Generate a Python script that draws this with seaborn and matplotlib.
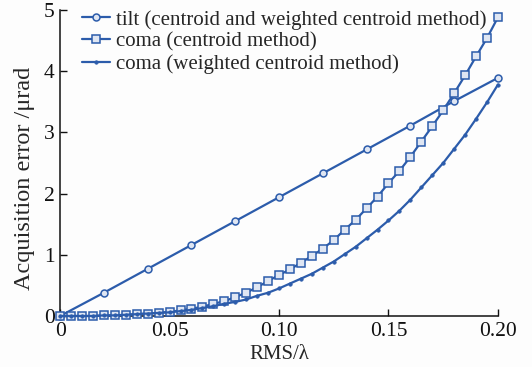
import numpy as np
import pandas as pd
import matplotlib
matplotlib.use("Agg")
import matplotlib.pyplot as plt
import seaborn as sns

# Data
tilt_x = [0.00, 0.02, 0.04, 0.06, 0.08, 0.10, 0.12, 0.14, 0.16, 0.18, 0.20]
tilt_y = [0.00, 0.38, 0.77, 1.16, 1.55, 1.94, 2.33, 2.72, 3.11, 3.51, 3.89]

coma_x = [0.000, 0.005, 0.010, 0.015, 0.020, 0.025, 0.030, 0.035, 0.040, 0.045,
          0.050, 0.055, 0.060, 0.065, 0.070, 0.075, 0.080, 0.085, 0.090, 0.095,
          0.100, 0.105, 0.110, 0.115, 0.120, 0.125, 0.130, 0.135, 0.140, 0.145,
          0.150, 0.155, 0.160, 0.165, 0.170, 0.175, 0.180, 0.185, 0.190, 0.195,
          0.200]
coma_c_y = [0.00, 0.00, 0.00, 0.00, 0.01, 0.01, 0.02, 0.03, 0.04, 0.05,
            0.07, 0.09, 0.12, 0.15, 0.20, 0.24, 0.31, 0.38, 0.47, 0.57,
            0.67, 0.76, 0.87, 0.98, 1.10, 1.24, 1.41, 1.57, 1.76, 1.95,
            2.17, 2.37, 2.60, 2.85, 3.10, 3.36, 3.64, 3.93, 4.24, 4.54,
            4.88]
coma_w_y = [0.00, 0.00, 0.00, 0.00, 0.01, 0.01, 0.02, 0.03, 0.04, 0.05,
            0.06, 0.08, 0.10, 0.13, 0.16, 0.20, 0.23, 0.27, 0.33, 0.38,
            0.45, 0.53, 0.61, 0.69, 0.79, 0.89, 1.01, 1.13, 1.27, 1.41,
            1.56, 1.72, 1.90, 2.10, 2.30, 2.50, 2.73, 2.96, 3.22, 3.49,
            3.78]

labels = ["tilt (centroid and weighted centroid method)",
          "coma (centroid method)",
          "coma (weighted centroid method)"]
x_ticks = [0, 0.05, 0.10, 0.15, 0.20]
x_ticklabels = ["0", "0.05", "0.10", "0.15", "0.20"]
y_ticks = [0, 1, 2, 3, 4, 5]

sns.set_style("ticks")
plt.rcParams['font.family'] = ['Liberation Serif', 'DejaVu Serif']

color = '#2c5cab'
fig = plt.figure(figsize=(5.32, 3.67), dpi=100)
fig.patch.set_facecolor('#fdfdfd')
ax = fig.add_axes([0.113, 0.139, 0.823, 0.834])
ax.set_facecolor('#fdfdfd')

sns.lineplot(x=tilt_x, y=tilt_y, ax=ax, color=color, lw=1.6, marker='o',
             markersize=5, markerfacecolor='#dfe6f3', markeredgecolor=color,
             markeredgewidth=1.1, label=labels[0], clip_on=False, zorder=3)
sns.lineplot(x=coma_x, y=coma_c_y, ax=ax, color=color, lw=1.6, marker='s',
             markersize=5.5, markerfacecolor='#dfe6f3', markeredgecolor=color,
             markeredgewidth=1.1, label=labels[1], clip_on=False, zorder=3)
sns.lineplot(x=coma_x, y=coma_w_y, ax=ax, color=color, lw=1.6, marker='o',
             markersize=2.5, markerfacecolor=color, markeredgecolor=color,
             markeredgewidth=0.5, label=labels[2], clip_on=False, zorder=3)

ax.set_xlim(0, 0.20)
ax.set_ylim(0, 5)
ax.set_xticks(x_ticks)
ax.set_xticklabels(x_ticklabels)
ax.set_yticks(y_ticks)
ax.tick_params(direction='in', length=5, width=1, labelsize=15.5, colors='#111111', pad=4)
for s in ['top', 'right']:
    ax.spines[s].set_visible(False)
for s in ['left', 'bottom']:
    ax.spines[s].set_linewidth(1.1)
    ax.spines[s].set_color('#111111')

ax.set_xlabel("RMS/λ", fontsize=15)
ax.xaxis.set_label_coords(0.5, -0.095)
ax.set_ylabel("Acquisition error /μrad", fontsize=17.5)
ax.yaxis.set_label_coords(-0.057, 0.45)

leg = ax.legend(loc='upper left', frameon=False, fontsize=15, handlelength=1.35,
                handletextpad=0.3, labelspacing=0.12, borderaxespad=0.0,
                borderpad=0.0, bbox_to_anchor=(0.05, 1.0))

fig.savefig("out.png", dpi=100, facecolor=fig.get_facecolor())
